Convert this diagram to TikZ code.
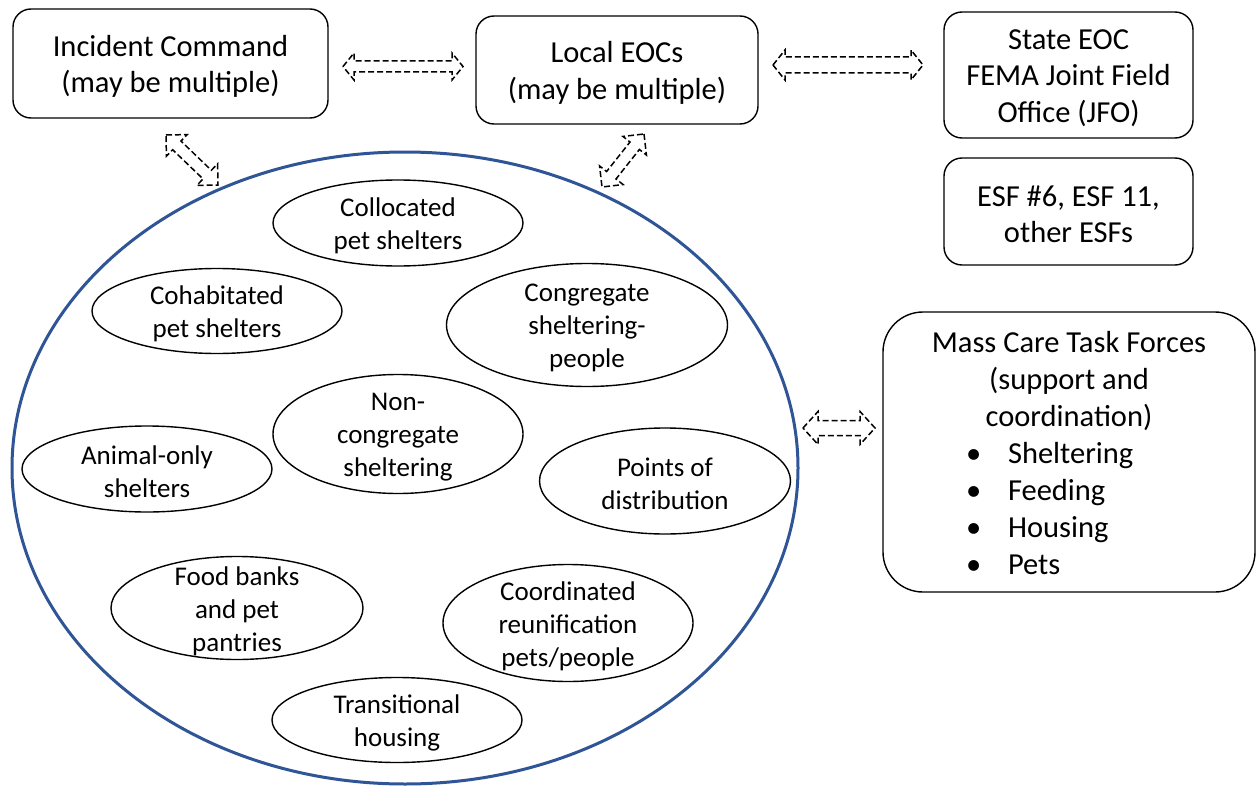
\documentclass[tikz,border=0pt]{standalone}
\usepackage{fontspec}
\setmainfont{Carlito}
\usetikzlibrary{calc,shapes.geometric}
\definecolor{bigblue}{RGB}{47,85,151}
\newcommand{\dblarrow}[5]{%
 \draw[arr] (#1) -- ($(#1)!#5!(#2)!#4!90:(#2)$) -- ($(#1)!#5!(#2)!#3!90:(#2)$)
   -- ($(#2)!#5!(#1)!#3!-90:(#1)$) -- ($(#2)!#5!(#1)!#4!-90:(#1)$) -- (#2)
   -- ($(#2)!#5!(#1)!#4!90:(#1)$) -- ($(#2)!#5!(#1)!#3!90:(#1)$)
   -- ($(#1)!#5!(#2)!#3!-90:(#2)$) -- ($(#1)!#5!(#2)!#4!-90:(#2)$) -- cycle;}
\begin{document}
\begin{tikzpicture}[x=1pt,y=-1pt,
  box/.style={draw, line width=1.4pt, rounded corners=18pt, inner sep=0pt},
  btxt/.style={align=center, font=\fontsize{30.5}{36.5}\selectfont,
    inner sep=0pt, yshift=-3pt},
  ell/.style={draw, ellipse, line width=1.4pt, inner sep=0pt},
  etxt/.style={align=center, font=\fontsize{27}{33}\selectfont, inner sep=0pt,
    yshift=-3pt},
  arr/.style={line width=1.5pt, dash pattern=on 6pt off 3pt, line join=miter}]
\useasboundingbox[fill=white] (0,0) rectangle (1256,792);

% boxes
\node[box, minimum width=315pt, minimum height=109pt] (ic) at (170.5,63.5) {};
\node[btxt] at (ic) {Incident Command\\(may be multiple)};
\node[box, minimum width=282pt, minimum height=108pt] (loc) at (617,70) {};
\node[btxt] at (loc) {Local EOCs\\(may be multiple)};
\node[box, minimum width=249pt, minimum height=126pt] (state) at (1068.5,75) {};
\node[btxt] at (state) {State EOC\\FEMA Joint Field\\Office (JFO)};
\node[box, minimum width=249pt, minimum height=107pt] (esf) at (1068.5,211.5) {};
\node[btxt] at (esf) {ESF \#6, ESF 11,\\other ESFs};
\node[box, rounded corners=40pt, minimum width=372pt, minimum height=280pt]
  (mass) at (1069,452) {};
\node[btxt, font=\fontsize{30.5}{37}\selectfont, yshift=2pt] at (mass)
  {Mass Care Task Forces\\(support and\\coordination)\\
   \makebox[206pt][l]{\makebox[42pt][l]{•}Sheltering}\\
   \makebox[206pt][l]{\makebox[42pt][l]{•}Feeding}\\
   \makebox[206pt][l]{\makebox[42pt][l]{•}Housing}\\
   \makebox[206pt][l]{\makebox[42pt][l]{•}Pets}};

% big ellipse
\node[draw=bigblue, ellipse, line width=3pt, inner sep=0pt,
  minimum width=786pt, minimum height=632pt] (big) at (405,468) {};

% small ellipses
\node[ell, minimum width=250pt, minimum height=86pt] (coll) at (398,223) {};
\node[etxt] at (coll) {Collocated\\pet shelters};
\node[ell, minimum width=250pt, minimum height=85pt] (cohab) at (217,311) {};
\node[etxt] at (cohab) {Cohabitated\\pet shelters};
\node[ell, minimum width=281pt, minimum height=123pt] (cong) at (587,325) {};
\node[etxt] at (cong) {Congregate\\sheltering-\\people};
\node[ell, minimum width=250pt, minimum height=119pt] (noncong) at (398,434) {};
\node[etxt] at (noncong) {Non-\\congregate\\sheltering};
\node[ell, minimum width=250pt, minimum height=86pt] (animal) at (147,469) {};
\node[etxt] at (animal) {Animal-only\\shelters};
\node[ell, minimum width=251pt, minimum height=106pt] (pod) at (665,481) {};
\node[etxt] at (pod) {Points of\\distribution};
\node[ell, minimum width=252pt, minimum height=103pt] (food) at (237,608) {};
\node[etxt] at (food) {Food banks\\and pet\\pantries};
\node[ell, minimum width=250pt, minimum height=117pt] (coord) at (568,623) {};
\node[etxt] at (coord) {Coordinated\\reunification\\pets/people};
\node[ell, minimum width=250pt, minimum height=85pt] (trans) at (397,720) {};
\node[etxt] at (trans) {Transitional\\housing};

% double arrows
\coordinate (a1w) at (343,66.5);  \coordinate (a1e) at (463,66.5);
\coordinate (a2w) at (773,65);    \coordinate (a2e) at (923,65);
\coordinate (a3w) at (803,428);   \coordinate (a3e) at (875,428);
\coordinate (a4s) at (166,135);   \coordinate (a4e) at (218,185);
\coordinate (a5s) at (644,134);   \coordinate (a5e) at (602,187);
\dblarrow{a1w}{a1e}{5.5pt}{13.5pt}{11pt}
\dblarrow{a2w}{a2e}{8pt}{15pt}{12pt}
\dblarrow{a3w}{a3e}{7.5pt}{16.5pt}{15pt}
\dblarrow{a4s}{a4e}{6pt}{15pt}{15pt}
\dblarrow{a5s}{a5e}{6pt}{15pt}{15pt}
\end{tikzpicture}
\end{document}
